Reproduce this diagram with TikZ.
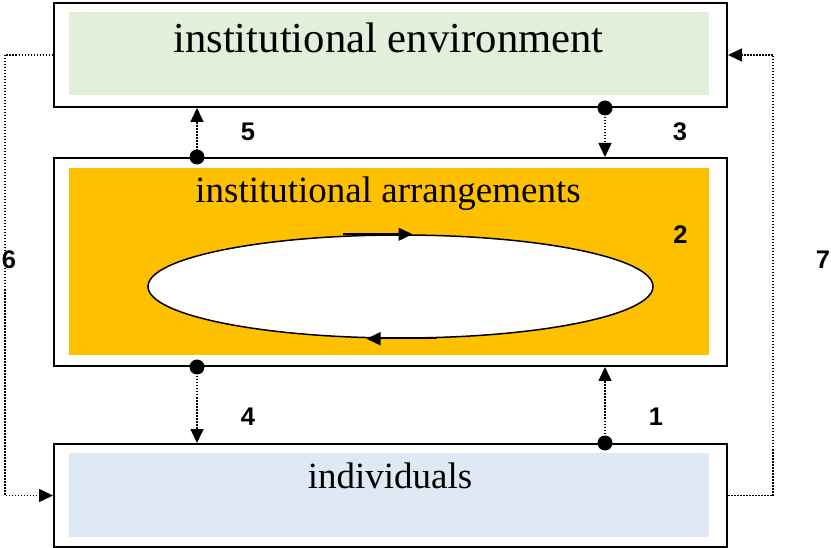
\documentclass[tikz,border=0pt]{standalone}
\usepackage{fontspec}
\setmainfont{Liberation Serif}
\newfontfamily\numfont{Liberation Sans}
\usetikzlibrary{arrows.meta,calc,shapes.geometric}
\definecolor{envfill}{RGB}{226,239,218}
\definecolor{arrfill}{RGB}{255,192,0}
\definecolor{indfill}{RGB}{222,233,245}
\begin{document}
\begin{tikzpicture}[x=1pt,y=-1pt,
  outerbox/.style={draw=black,line width=2pt,fill=white,rectangle,inner sep=0pt,anchor=north west},
  innerbox/.style={rectangle,inner sep=0pt,anchor=north west},
  dotline/.style={line width=1.5pt,dash pattern=on 1.5pt off 1.5pt},
  arrowtip/.style={-{Triangle[length=14pt,width=13pt]}},
  bigdot/.style={fill=black},
  numlabel/.style={font=\numfont\bfseries\fontsize{25.5}{26}\selectfont,inner sep=0pt},
  bigtext/.style={anchor=base,inner sep=0pt}
]
\useasboundingbox (0,0) rectangle (831,548);
% outer boxes
\node[outerbox,minimum width=673pt,minimum height=104pt] (env) at (53,2) {};
\node[outerbox,minimum width=673pt,minimum height=208pt] (arr) at (53,157) {};
\node[outerbox,minimum width=673pt,minimum height=103pt] (ind) at (53,443) {};
% inner fills
\node[innerbox,fill=envfill,minimum width=640pt,minimum height=83pt] (envin) at (69,12) {};
\node[innerbox,fill=arrfill,minimum width=640pt,minimum height=187pt] (arrin) at (69,168) {};
\node[innerbox,fill=indfill,minimum width=640pt,minimum height=84pt] (indin) at (69,453) {};
% texts
\node[bigtext,font=\fontsize{42.7}{44}\selectfont] (envt) at (388.5,53) {institutional environment};
\node[bigtext,font=\fontsize{37}{38}\selectfont] (arrt) at (388,203) {institutional arrangements};
\node[bigtext,font=\fontsize{37}{38}\selectfont] (indt) at (390,488) {individuals};
% loop
\node[draw=black,line width=1.5pt,fill=white,ellipse,minimum width=505pt,minimum height=103pt,inner sep=0pt] (loop) at (400.5,286.5) {};
\draw[line width=1.5pt,arrowtip] ($(loop.north)+(-58,0)$) -- ($(loop.north)+(12,0)$);
\draw[line width=1.5pt,arrowtip] ($(loop.south)+(36,0)$) -- ($(loop.south)+(-34,0)$);
% connector columns
\coordinate (cl) at (197,0);
\coordinate (cr) at (605,0);
\coordinate (L) at (5,0);
\coordinate (R) at (773,0);
% vertical connectors
\draw[dotline,arrowtip] (arr.north -| cl) -- (env.south -| cl);
\fill[bigdot] (arr.north -| cl) circle (7.5pt);
\draw[dotline,arrowtip] (env.south -| cr) -- (arr.north -| cr);
\fill[bigdot] (env.south -| cr) circle (7.5pt);
\draw[dotline,arrowtip] (arr.south -| cl) -- (ind.north -| cl);
\fill[bigdot] (arr.south -| cl) circle (7.5pt);
\draw[dotline,arrowtip] (ind.north -| cr) -- (arr.south -| cr);
\fill[bigdot] (ind.north -| cr) circle (7.5pt);
% outer loops
\draw[dotline,arrowtip] (env.west) -- (env.west -| L) -- (ind.west -| L) -- (ind.west);
\draw[dotline,arrowtip] (ind.east) -- (ind.east -| R) -- (env.east -| R) -- (env.east);
% number labels
\node[numlabel] (n5) at (248,132) {5};
\node[numlabel] (n3) at (680,132) {3};
\node[numlabel] (n4) at (248,417) {4};
\node[numlabel] (n1) at (656,417) {1};
\node[numlabel] (n2) at (680.5,235) {2};
\node[numlabel] (n6) at (9,260) {6};
\node[numlabel] (n7) at (823,260) {7};
\end{tikzpicture}
\end{document}
